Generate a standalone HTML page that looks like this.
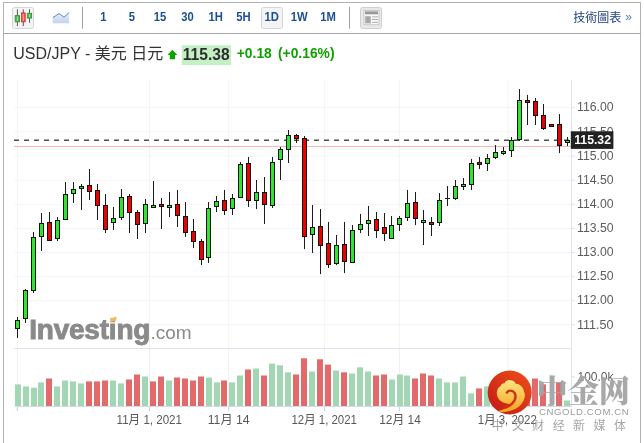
<!DOCTYPE html>
<html><head><meta charset="utf-8"><title>USD/JPY</title>
<style>
html,body{margin:0;padding:0;background:#fff;}
body{width:644px;height:443px;overflow:hidden;position:relative;font-family:"Liberation Sans","Noto Sans CJK SC",sans-serif;}
svg{position:absolute;left:0;top:0;display:block}
text{font-family:"Liberation Sans","Noto Sans CJK SC",sans-serif;}
.tb{font-weight:bold;font-size:12px;fill:#1c4f94;text-anchor:middle}
.ax{font-size:12px;fill:#5c5c5c}
.xl{font-size:12px;fill:#585858;text-anchor:middle}
</style></head><body>
<svg width="644" height="443" viewBox="0 0 644 443">
<defs>
<linearGradient id="ar" x1="0" y1="0" x2="0" y2="1"><stop offset="0" stop-color="#e6eefb"/><stop offset="1" stop-color="#c3d3ee"/></linearGradient>
<linearGradient id="rc" x1="0.85" y1="0.1" x2="0.15" y2="0.9"><stop offset="0" stop-color="#ea4a18"/><stop offset="1" stop-color="#c61d18"/></linearGradient>
<linearGradient id="gold" gradientUnits="userSpaceOnUse" x1="0" y1="110" x2="0" y2="410"><stop offset="0" stop-color="#ffe680"/><stop offset="1" stop-color="#f5a21f"/></linearGradient>
</defs>

<rect x="0" y="0" width="644" height="443" fill="#fff"/>
<rect x="3" y="2" width="1" height="441" fill="#b3b3b3"/>
<rect x="640" y="2" width="1" height="441" fill="#b3b3b3"/>
<rect x="3" y="2" width="638" height="1" fill="#b3b3b3"/>
<rect x="3" y="33" width="638" height="1" fill="#a6a6a6"/>
<rect x="12.5" y="7.5" width="21" height="21" rx="2" fill="#f4f4f4" stroke="#d6d6d6"/>
<g stroke="#333" stroke-width="0.8"><line x1="17.4" y1="9.3" x2="17.4" y2="26.1"/><line x1="23.3" y1="9.3" x2="23.3" y2="26.1"/><line x1="29.5" y1="9.3" x2="29.5" y2="22.8"/></g>
<rect x="15.2" y="15.6" width="4.3" height="6.2" fill="#55b255" stroke="#2e9a2e" stroke-width="0.9"/><rect x="16.9" y="16.4" width="1" height="4.6" fill="#a8dca8"/>
<rect x="21.4" y="12.9" width="3.8" height="8.9" fill="#ea5a5a" stroke="#d93030" stroke-width="0.9"/><rect x="22.8" y="13.8" width="1" height="7.2" fill="#f6a6a6"/>
<rect x="27.3" y="13.3" width="4.3" height="4.8" fill="#55b255" stroke="#2e9a2e" stroke-width="0.9"/><rect x="29" y="14.2" width="1" height="3" fill="#a8dca8"/>
<path d="M52.8 17.7 L59.1 13.5 L64 17.2 L69.1 12.6 L69.1 23.3 L52.8 23.3 Z" fill="url(#ar)"/>
<path d="M52.8 17.7 L59.1 13.5 L64 17.2 L69.1 12.6" fill="none" stroke="#5a8bc0" stroke-width="1"/>
<rect x="82" y="7" width="1" height="21.7" fill="#a0a0a0"/>
<rect x="349" y="7" width="1" height="21.7" fill="#a0a0a0"/>
<rect x="261.5" y="7.5" width="21" height="21" rx="2" fill="#f4f4f4" stroke="#d6d6d6"/>
<text class="tb" transform="translate(103.5 20.8) scale(0.94 1)">1</text>
<text class="tb" transform="translate(132 20.8) scale(0.94 1)">5</text>
<text class="tb" transform="translate(160 20.8) scale(0.94 1)">15</text>
<text class="tb" transform="translate(187.6 20.8) scale(0.94 1)">30</text>
<text class="tb" transform="translate(215.7 20.8) scale(0.94 1)">1H</text>
<text class="tb" transform="translate(243.4 20.8) scale(0.94 1)">5H</text>
<text class="tb" transform="translate(271.8 20.8) scale(0.94 1)">1D</text>
<text class="tb" transform="translate(299.3 20.8) scale(0.94 1)">1W</text>
<text class="tb" transform="translate(328 20.8) scale(0.94 1)">1M</text>
<rect x="360.5" y="7.5" width="21" height="21" rx="2" fill="#e9e9e9" stroke="#cfcfcf"/>
<rect x="364" y="10.3" width="15" height="14.5" fill="#fafafa" stroke="#bdbdbd" stroke-width="0.8"/>
<rect x="365" y="11.3" width="13" height="3" fill="#9a9a9a"/>
<rect x="365.2" y="16.2" width="5.6" height="7.2" fill="#a9a9a9"/>
<g fill="#aaa"><rect x="372" y="16.4" width="6" height="1"/><rect x="372" y="19" width="6" height="1"/><rect x="372" y="21.8" width="6" height="1"/></g>
<text x="573.3" y="21.6" style="font-family:'Liberation Sans','Noto Sans CJK TC',sans-serif;font-size:12px;fill:#1c3f7c">技術圖表</text>
<text x="625.3" y="21.3" style="font-size:12px;fill:#4a7fc0">»</text>
<text x="13.3" y="58.5" style="font-size:16px;fill:#333">USD/JPY - 美元 日元</text>
<path d="M172.4 49.7 L177.3 54.9 L175.1 54.9 L175.1 59.3 L169.8 59.3 L169.8 54.9 L167.5 54.9 Z" fill="#0ea000"/>
<rect x="181.8" y="45.2" width="49.2" height="19.9" fill="#c4f0c4"/>
<text transform="translate(182.8 59.9) scale(0.975 1.065)" style="font-size:16px;font-weight:bold;fill:#2e2e2e">115.38</text>
<text x="236.8" y="58.4" style="font-size:14.4px;font-weight:bold;fill:#0ea000" textLength="35" lengthAdjust="spacingAndGlyphs">+0.18</text>
<text x="278" y="58.4" style="font-size:14.4px;font-weight:bold;fill:#0ea000" textLength="56.5" lengthAdjust="spacingAndGlyphs">(+0.16%)</text>
<rect x="14.5" y="106.80" width="557" height="1" fill="#f4f4f4"/>
<rect x="14.5" y="131.30" width="557" height="1" fill="#f4f4f4"/>
<rect x="14.5" y="155.60" width="557" height="1" fill="#f4f4f4"/>
<rect x="14.5" y="179.70" width="557" height="1" fill="#f4f4f4"/>
<rect x="14.5" y="203.80" width="557" height="1" fill="#f4f4f4"/>
<rect x="14.5" y="227.90" width="557" height="1" fill="#f4f4f4"/>
<rect x="14.5" y="252.00" width="557" height="1" fill="#f4f4f4"/>
<rect x="14.5" y="276.20" width="557" height="1" fill="#f4f4f4"/>
<rect x="14.5" y="300.20" width="557" height="1" fill="#f4f4f4"/>
<rect x="14.5" y="324.30" width="557" height="1" fill="#f4f4f4"/>
<rect x="16.90" y="80" width="1" height="268" fill="#f4f4f4"/>
<rect x="16.90" y="349" width="1" height="57" fill="#eceff5"/>
<rect x="16.90" y="406" width="1" height="5" fill="#c8d0e0"/>
<rect x="149.00" y="80" width="1" height="268" fill="#f4f4f4"/>
<rect x="149.00" y="349" width="1" height="57" fill="#eceff5"/>
<rect x="149.00" y="406" width="1" height="5" fill="#c8d0e0"/>
<rect x="228.20" y="80" width="1" height="268" fill="#f4f4f4"/>
<rect x="228.20" y="349" width="1" height="57" fill="#eceff5"/>
<rect x="228.20" y="406" width="1" height="5" fill="#c8d0e0"/>
<rect x="324.10" y="80" width="1" height="268" fill="#f4f4f4"/>
<rect x="324.10" y="349" width="1" height="57" fill="#eceff5"/>
<rect x="324.10" y="406" width="1" height="5" fill="#c8d0e0"/>
<rect x="398.90" y="80" width="1" height="268" fill="#f4f4f4"/>
<rect x="398.90" y="349" width="1" height="57" fill="#eceff5"/>
<rect x="398.90" y="406" width="1" height="5" fill="#c8d0e0"/>
<rect x="507.60" y="80" width="1" height="268" fill="#f4f4f4"/>
<rect x="507.60" y="349" width="1" height="57" fill="#eceff5"/>
<rect x="507.60" y="406" width="1" height="5" fill="#c8d0e0"/>
<rect x="14.5" y="348" width="557.5" height="1" fill="#dde3ec"/>
<rect x="14.5" y="406" width="557.5" height="1" fill="#d4dbe8"/>
<rect x="571" y="80" width="1" height="327" fill="#dfe4ed"/>
<rect x="571" y="106.80" width="4" height="1" fill="#dbe0ea"/>
<rect x="571" y="131.30" width="4" height="1" fill="#dbe0ea"/>
<rect x="571" y="155.60" width="4" height="1" fill="#dbe0ea"/>
<rect x="571" y="179.70" width="4" height="1" fill="#dbe0ea"/>
<rect x="571" y="203.80" width="4" height="1" fill="#dbe0ea"/>
<rect x="571" y="227.90" width="4" height="1" fill="#dbe0ea"/>
<rect x="571" y="252.00" width="4" height="1" fill="#dbe0ea"/>
<rect x="571" y="276.20" width="4" height="1" fill="#dbe0ea"/>
<rect x="571" y="300.20" width="4" height="1" fill="#dbe0ea"/>
<rect x="571" y="324.30" width="4" height="1" fill="#dbe0ea"/>
<rect x="571" y="376.5" width="4" height="1" fill="#dbe0ea"/>
<text x="29.2" y="339" style="font-size:27.5px;font-weight:bold;fill:#8a8a8a;stroke:#8a8a8a;stroke-width:0.9px;letter-spacing:-0.2px" textLength="121" lengthAdjust="spacingAndGlyphs">Investing</text>
<text x="150.4" y="339.2" style="font-size:19px;fill:#8a8a8a">.com</text>
<path d="M110 318.4 L116.4 316.6 L116.4 320.6 L110 322 Z" fill="#f6bd60"/>
<rect x="14.2" y="146" width="557" height="1" fill="#f9b4b4"/>
<line x1="14" y1="140.3" x2="571" y2="140.3" stroke="#4d4d4d" stroke-width="1.6" stroke-dasharray="5 5"/>
<rect x="15" y="384.4" width="6" height="21.6" fill="#a3d7b3"/>
<rect x="23" y="386.4" width="6" height="19.6" fill="#a3d7b3"/>
<rect x="31" y="387.7" width="6" height="18.3" fill="#a3d7b3"/>
<rect x="38" y="382.4" width="6" height="23.6" fill="#a3d7b3"/>
<rect x="46" y="378.5" width="6" height="27.5" fill="#e26a6a"/>
<rect x="54" y="386.4" width="6" height="19.6" fill="#a3d7b3"/>
<rect x="62" y="380.5" width="6" height="25.5" fill="#a3d7b3"/>
<rect x="70" y="381.4" width="6" height="24.6" fill="#a3d7b3"/>
<rect x="78" y="383.4" width="6" height="22.6" fill="#a3d7b3"/>
<rect x="86" y="381.4" width="6" height="24.6" fill="#e26a6a"/>
<rect x="94" y="381.4" width="6" height="24.6" fill="#e26a6a"/>
<rect x="102" y="380.5" width="6" height="25.5" fill="#e26a6a"/>
<rect x="110" y="380.5" width="6" height="25.5" fill="#a3d7b3"/>
<rect x="118" y="383.4" width="6" height="22.6" fill="#a3d7b3"/>
<rect x="126" y="379.5" width="6" height="26.5" fill="#e26a6a"/>
<rect x="134" y="374.5" width="6" height="31.5" fill="#e26a6a"/>
<rect x="142" y="376.5" width="6" height="29.5" fill="#a3d7b3"/>
<rect x="150" y="381.4" width="6" height="24.6" fill="#e26a6a"/>
<rect x="158" y="376.5" width="6" height="29.5" fill="#e26a6a"/>
<rect x="166" y="380.5" width="6" height="25.5" fill="#a3d7b3"/>
<rect x="174" y="377.5" width="6" height="28.5" fill="#e26a6a"/>
<rect x="182" y="378.5" width="6" height="27.5" fill="#e26a6a"/>
<rect x="190" y="380.5" width="6" height="25.5" fill="#e26a6a"/>
<rect x="198" y="376.5" width="6" height="29.5" fill="#e26a6a"/>
<rect x="206" y="377.5" width="6" height="28.5" fill="#a3d7b3"/>
<rect x="214" y="382.4" width="6" height="23.6" fill="#a3d7b3"/>
<rect x="221" y="380.5" width="6" height="25.5" fill="#e26a6a"/>
<rect x="229" y="382.4" width="6" height="23.6" fill="#a3d7b3"/>
<rect x="237" y="375.5" width="6" height="30.5" fill="#a3d7b3"/>
<rect x="245" y="369.5" width="6" height="36.5" fill="#e26a6a"/>
<rect x="253" y="368.5" width="6" height="37.5" fill="#a3d7b3"/>
<rect x="261" y="375.5" width="6" height="30.5" fill="#e26a6a"/>
<rect x="269" y="363.6" width="6" height="42.4" fill="#a3d7b3"/>
<rect x="277" y="365.3" width="6" height="40.7" fill="#a3d7b3"/>
<rect x="285" y="372.3" width="6" height="33.7" fill="#a3d7b3"/>
<rect x="293" y="374.5" width="6" height="31.5" fill="#e26a6a"/>
<rect x="301" y="358.3" width="6" height="47.7" fill="#e26a6a"/>
<rect x="309" y="371.5" width="6" height="34.5" fill="#a3d7b3"/>
<rect x="317" y="359.3" width="6" height="46.7" fill="#e26a6a"/>
<rect x="325" y="364.6" width="6" height="41.4" fill="#e26a6a"/>
<rect x="333" y="370.5" width="6" height="35.5" fill="#a3d7b3"/>
<rect x="341" y="372.3" width="6" height="33.7" fill="#e26a6a"/>
<rect x="349" y="373.5" width="6" height="32.5" fill="#a3d7b3"/>
<rect x="357" y="367.3" width="6" height="38.7" fill="#a3d7b3"/>
<rect x="365" y="371.5" width="6" height="34.5" fill="#a3d7b3"/>
<rect x="373" y="375.5" width="6" height="30.5" fill="#e26a6a"/>
<rect x="381" y="374.5" width="6" height="31.5" fill="#e26a6a"/>
<rect x="389" y="379.5" width="6" height="26.5" fill="#a3d7b3"/>
<rect x="397" y="374.5" width="6" height="31.5" fill="#a3d7b3"/>
<rect x="404" y="375.5" width="6" height="30.5" fill="#a3d7b3"/>
<rect x="412" y="378.5" width="6" height="27.5" fill="#e26a6a"/>
<rect x="420" y="373.5" width="6" height="32.5" fill="#e26a6a"/>
<rect x="428" y="375.5" width="6" height="30.5" fill="#e26a6a"/>
<rect x="436" y="378.5" width="6" height="27.5" fill="#a3d7b3"/>
<rect x="444" y="382.4" width="6" height="23.6" fill="#a3d7b3"/>
<rect x="452" y="382.4" width="6" height="23.6" fill="#a3d7b3"/>
<rect x="460" y="376.5" width="6" height="29.5" fill="#a3d7b3"/>
<rect x="468" y="393.4" width="6" height="12.6" fill="#a3d7b3"/>
<rect x="476" y="388.4" width="6" height="17.6" fill="#e26a6a"/>
<rect x="484" y="386.4" width="6" height="19.6" fill="#a3d7b3"/>
<rect x="492" y="385.0" width="6" height="21.0" fill="#a3d7b3"/>
<rect x="500" y="388.0" width="6" height="18.0" fill="#a3d7b3"/>
<rect x="508" y="384.0" width="6" height="22.0" fill="#a3d7b3"/>
<rect x="516" y="385.0" width="6" height="21.0" fill="#a3d7b3"/>
<rect x="524" y="386.0" width="6" height="20.0" fill="#e26a6a"/>
<rect x="532" y="378.5" width="6" height="27.5" fill="#e26a6a"/>
<rect x="540" y="384.4" width="6" height="21.6" fill="#e26a6a"/>
<rect x="548" y="404.0" width="6" height="2.0" fill="#a3d7b3"/>
<rect x="556" y="382.5" width="6" height="23.5" fill="#e26a6a"/>
<rect x="564" y="400.5" width="6" height="5.5" fill="#a3d7b3"/>
<rect x="17.0" y="317" width="1" height="21" fill="#1c1c1c"/>
<rect x="15.0" y="320" width="5" height="9" fill="#111"/>
<rect x="16.0" y="321" width="3" height="7" fill="#2fe62f"/>
<rect x="25.0" y="289" width="1" height="34" fill="#1c1c1c"/>
<rect x="23.0" y="290" width="5" height="29" fill="#111"/>
<rect x="24.0" y="291" width="3" height="27" fill="#2fe62f"/>
<rect x="33.0" y="232" width="1" height="61" fill="#1c1c1c"/>
<rect x="31.0" y="237" width="5" height="54" fill="#111"/>
<rect x="32.0" y="238" width="3" height="52" fill="#2fe62f"/>
<rect x="41.0" y="213" width="1" height="38" fill="#1c1c1c"/>
<rect x="39.0" y="223" width="5" height="14" fill="#111"/>
<rect x="40.0" y="224" width="3" height="12" fill="#2fe62f"/>
<rect x="49.0" y="212" width="1" height="29" fill="#1c1c1c"/>
<rect x="47.0" y="222" width="5" height="19" fill="#111"/>
<rect x="48.0" y="223" width="3" height="17" fill="#ee0000"/>
<rect x="57.0" y="217" width="1" height="24" fill="#1c1c1c"/>
<rect x="55.0" y="220" width="5" height="19" fill="#111"/>
<rect x="56.0" y="221" width="3" height="17" fill="#2fe62f"/>
<rect x="65.0" y="182" width="1" height="38" fill="#1c1c1c"/>
<rect x="63.0" y="194" width="5" height="26" fill="#111"/>
<rect x="64.0" y="195" width="3" height="24" fill="#2fe62f"/>
<rect x="73.0" y="182" width="1" height="21" fill="#1c1c1c"/>
<rect x="71.0" y="189" width="5" height="5" fill="#111"/>
<rect x="72.0" y="190" width="3" height="3" fill="#2fe62f"/>
<rect x="81.0" y="184" width="1" height="26" fill="#1c1c1c"/>
<rect x="79.0" y="186" width="5" height="3" fill="#111"/>
<rect x="80.0" y="187" width="3" height="1" fill="#2fe62f"/>
<rect x="89.0" y="169" width="1" height="31" fill="#1c1c1c"/>
<rect x="87.0" y="185" width="5" height="7" fill="#111"/>
<rect x="88.0" y="186" width="3" height="5" fill="#ee0000"/>
<rect x="97.0" y="184" width="1" height="36" fill="#1c1c1c"/>
<rect x="95.0" y="190" width="5" height="16" fill="#111"/>
<rect x="96.0" y="191" width="3" height="14" fill="#ee0000"/>
<rect x="105.0" y="194" width="1" height="39" fill="#1c1c1c"/>
<rect x="103.0" y="205" width="5" height="25" fill="#111"/>
<rect x="104.0" y="206" width="3" height="23" fill="#ee0000"/>
<rect x="113.0" y="207" width="1" height="23" fill="#1c1c1c"/>
<rect x="111.0" y="218" width="5" height="5" fill="#111"/>
<rect x="112.0" y="219" width="3" height="3" fill="#2fe62f"/>
<rect x="121.0" y="189" width="1" height="31" fill="#1c1c1c"/>
<rect x="119.0" y="197" width="5" height="21" fill="#111"/>
<rect x="120.0" y="198" width="3" height="19" fill="#2fe62f"/>
<rect x="129.0" y="194" width="1" height="39" fill="#1c1c1c"/>
<rect x="127.0" y="196" width="5" height="17" fill="#111"/>
<rect x="128.0" y="197" width="3" height="15" fill="#ee0000"/>
<rect x="137.0" y="210" width="1" height="29" fill="#1c1c1c"/>
<rect x="135.0" y="212" width="5" height="13" fill="#111"/>
<rect x="136.0" y="213" width="3" height="11" fill="#ee0000"/>
<rect x="145.0" y="199" width="1" height="34" fill="#1c1c1c"/>
<rect x="143.0" y="204" width="5" height="20" fill="#111"/>
<rect x="144.0" y="205" width="3" height="18" fill="#2fe62f"/>
<rect x="153.0" y="181" width="1" height="27" fill="#1c1c1c"/>
<rect x="151.0" y="205" width="5" height="3" fill="#111"/>
<rect x="152.0" y="206" width="3" height="1" fill="#2fe62f"/>
<rect x="161.0" y="198" width="1" height="31" fill="#1c1c1c"/>
<rect x="159.0" y="204" width="5" height="3" fill="#111"/>
<rect x="160.0" y="205" width="3" height="1" fill="#ee0000"/>
<rect x="169.0" y="192" width="1" height="25" fill="#1c1c1c"/>
<rect x="167.0" y="205" width="5" height="3" fill="#111"/>
<rect x="168.0" y="206" width="3" height="1" fill="#2fe62f"/>
<rect x="177.0" y="190" width="1" height="37" fill="#1c1c1c"/>
<rect x="175.0" y="204" width="5" height="12" fill="#111"/>
<rect x="176.0" y="205" width="3" height="10" fill="#ee0000"/>
<rect x="185.0" y="202" width="1" height="35" fill="#1c1c1c"/>
<rect x="183.0" y="216" width="5" height="17" fill="#111"/>
<rect x="184.0" y="217" width="3" height="15" fill="#ee0000"/>
<rect x="193.0" y="219" width="1" height="29" fill="#1c1c1c"/>
<rect x="191.0" y="231" width="5" height="11" fill="#111"/>
<rect x="192.0" y="232" width="3" height="9" fill="#ee0000"/>
<rect x="201.0" y="239" width="1" height="26" fill="#1c1c1c"/>
<rect x="199.0" y="241" width="5" height="19" fill="#111"/>
<rect x="200.0" y="242" width="3" height="17" fill="#ee0000"/>
<rect x="208.0" y="202" width="1" height="61" fill="#1c1c1c"/>
<rect x="206.0" y="208" width="5" height="50" fill="#111"/>
<rect x="207.0" y="209" width="3" height="48" fill="#2fe62f"/>
<rect x="216.0" y="196" width="1" height="16" fill="#1c1c1c"/>
<rect x="214.0" y="201" width="5" height="6" fill="#111"/>
<rect x="215.0" y="202" width="3" height="4" fill="#2fe62f"/>
<rect x="224.0" y="190" width="1" height="25" fill="#1c1c1c"/>
<rect x="222.0" y="200" width="5" height="11" fill="#111"/>
<rect x="223.0" y="201" width="3" height="9" fill="#ee0000"/>
<rect x="232.0" y="194" width="1" height="21" fill="#1c1c1c"/>
<rect x="230.0" y="198" width="5" height="11" fill="#111"/>
<rect x="231.0" y="199" width="3" height="9" fill="#2fe62f"/>
<rect x="240.0" y="162" width="1" height="36" fill="#1c1c1c"/>
<rect x="238.0" y="164" width="5" height="34" fill="#111"/>
<rect x="239.0" y="165" width="3" height="32" fill="#2fe62f"/>
<rect x="248.0" y="157" width="1" height="50" fill="#1c1c1c"/>
<rect x="246.0" y="163" width="5" height="38" fill="#111"/>
<rect x="247.0" y="164" width="3" height="36" fill="#ee0000"/>
<rect x="256.0" y="180" width="1" height="29" fill="#1c1c1c"/>
<rect x="254.0" y="192" width="5" height="9" fill="#111"/>
<rect x="255.0" y="193" width="3" height="7" fill="#2fe62f"/>
<rect x="264.0" y="177" width="1" height="47" fill="#1c1c1c"/>
<rect x="262.0" y="192" width="5" height="13" fill="#111"/>
<rect x="263.0" y="193" width="3" height="11" fill="#ee0000"/>
<rect x="272.0" y="157" width="1" height="51" fill="#1c1c1c"/>
<rect x="270.0" y="162" width="5" height="44" fill="#111"/>
<rect x="271.0" y="163" width="3" height="42" fill="#2fe62f"/>
<rect x="280.0" y="147" width="1" height="33" fill="#1c1c1c"/>
<rect x="278.0" y="149" width="5" height="11" fill="#111"/>
<rect x="279.0" y="150" width="3" height="9" fill="#2fe62f"/>
<rect x="288.0" y="130" width="1" height="33" fill="#1c1c1c"/>
<rect x="286.0" y="135" width="5" height="15" fill="#111"/>
<rect x="287.0" y="136" width="3" height="13" fill="#2fe62f"/>
<rect x="296.0" y="134" width="1" height="9" fill="#1c1c1c"/>
<rect x="294.0" y="135" width="5" height="4" fill="#111"/>
<rect x="295.0" y="136" width="3" height="2" fill="#ee0000"/>
<rect x="304.0" y="136" width="1" height="113" fill="#1c1c1c"/>
<rect x="302.0" y="138" width="5" height="99" fill="#111"/>
<rect x="303.0" y="139" width="3" height="97" fill="#ee0000"/>
<rect x="312.0" y="205" width="1" height="48" fill="#1c1c1c"/>
<rect x="310.0" y="227" width="5" height="8" fill="#111"/>
<rect x="311.0" y="228" width="3" height="6" fill="#2fe62f"/>
<rect x="320.0" y="209" width="1" height="65" fill="#1c1c1c"/>
<rect x="318.0" y="226" width="5" height="20" fill="#111"/>
<rect x="319.0" y="227" width="3" height="18" fill="#ee0000"/>
<rect x="328.0" y="222" width="1" height="46" fill="#1c1c1c"/>
<rect x="326.0" y="243" width="5" height="22" fill="#111"/>
<rect x="327.0" y="244" width="3" height="20" fill="#ee0000"/>
<rect x="336.0" y="235" width="1" height="30" fill="#1c1c1c"/>
<rect x="334.0" y="245" width="5" height="19" fill="#111"/>
<rect x="335.0" y="246" width="3" height="17" fill="#2fe62f"/>
<rect x="344.0" y="222" width="1" height="51" fill="#1c1c1c"/>
<rect x="342.0" y="244" width="5" height="18" fill="#111"/>
<rect x="343.0" y="245" width="3" height="16" fill="#ee0000"/>
<rect x="352.0" y="225" width="1" height="38" fill="#1c1c1c"/>
<rect x="350.0" y="230" width="5" height="33" fill="#111"/>
<rect x="351.0" y="231" width="3" height="31" fill="#2fe62f"/>
<rect x="360.0" y="214" width="1" height="19" fill="#1c1c1c"/>
<rect x="358.0" y="224" width="5" height="6" fill="#111"/>
<rect x="359.0" y="225" width="3" height="4" fill="#2fe62f"/>
<rect x="368.0" y="206" width="1" height="30" fill="#1c1c1c"/>
<rect x="366.0" y="220" width="5" height="4" fill="#111"/>
<rect x="367.0" y="221" width="3" height="2" fill="#2fe62f"/>
<rect x="376.0" y="212" width="1" height="26" fill="#1c1c1c"/>
<rect x="374.0" y="219" width="5" height="12" fill="#111"/>
<rect x="375.0" y="220" width="3" height="10" fill="#ee0000"/>
<rect x="384.0" y="213" width="1" height="28" fill="#1c1c1c"/>
<rect x="382.0" y="227" width="5" height="7" fill="#111"/>
<rect x="383.0" y="228" width="3" height="5" fill="#ee0000"/>
<rect x="391.0" y="216" width="1" height="23" fill="#1c1c1c"/>
<rect x="389.0" y="225" width="5" height="14" fill="#111"/>
<rect x="390.0" y="226" width="3" height="12" fill="#2fe62f"/>
<rect x="399.0" y="216" width="1" height="15" fill="#1c1c1c"/>
<rect x="397.0" y="218" width="5" height="7" fill="#111"/>
<rect x="398.0" y="219" width="3" height="5" fill="#2fe62f"/>
<rect x="407.0" y="190" width="1" height="31" fill="#1c1c1c"/>
<rect x="405.0" y="203" width="5" height="15" fill="#111"/>
<rect x="406.0" y="204" width="3" height="13" fill="#2fe62f"/>
<rect x="415.0" y="192" width="1" height="33" fill="#1c1c1c"/>
<rect x="413.0" y="202" width="5" height="17" fill="#111"/>
<rect x="414.0" y="203" width="3" height="15" fill="#ee0000"/>
<rect x="423.0" y="210" width="1" height="35" fill="#1c1c1c"/>
<rect x="421.0" y="220" width="5" height="3" fill="#111"/>
<rect x="422.0" y="221" width="3" height="1" fill="#2fe62f"/>
<rect x="431.0" y="217" width="1" height="19" fill="#1c1c1c"/>
<rect x="429.0" y="222" width="5" height="3" fill="#111"/>
<rect x="430.0" y="223" width="3" height="1" fill="#ee0000"/>
<rect x="439.0" y="193" width="1" height="33" fill="#1c1c1c"/>
<rect x="437.0" y="200" width="5" height="23" fill="#111"/>
<rect x="438.0" y="201" width="3" height="21" fill="#2fe62f"/>
<rect x="447.0" y="186" width="1" height="20" fill="#1c1c1c"/>
<rect x="445.0" y="198" width="5" height="1" fill="#1c1c1c"/>
<rect x="455.0" y="180" width="1" height="20" fill="#1c1c1c"/>
<rect x="453.0" y="186" width="5" height="13" fill="#111"/>
<rect x="454.0" y="187" width="3" height="11" fill="#2fe62f"/>
<rect x="463.0" y="178" width="1" height="12" fill="#1c1c1c"/>
<rect x="461.0" y="184" width="5" height="3" fill="#111"/>
<rect x="462.0" y="185" width="3" height="1" fill="#2fe62f"/>
<rect x="471.0" y="159" width="1" height="31" fill="#1c1c1c"/>
<rect x="469.0" y="163" width="5" height="22" fill="#111"/>
<rect x="470.0" y="164" width="3" height="20" fill="#2fe62f"/>
<rect x="479.0" y="157" width="1" height="12" fill="#1c1c1c"/>
<rect x="477.0" y="162" width="5" height="3" fill="#111"/>
<rect x="478.0" y="163" width="3" height="1" fill="#ee0000"/>
<rect x="487.0" y="154" width="1" height="17" fill="#1c1c1c"/>
<rect x="485.0" y="158" width="5" height="6" fill="#111"/>
<rect x="486.0" y="159" width="3" height="4" fill="#2fe62f"/>
<rect x="495.0" y="145" width="1" height="14" fill="#1c1c1c"/>
<rect x="493.0" y="152" width="5" height="6" fill="#111"/>
<rect x="494.0" y="153" width="3" height="4" fill="#2fe62f"/>
<rect x="503.0" y="147" width="1" height="8" fill="#1c1c1c"/>
<rect x="501.0" y="151" width="5" height="3" fill="#111"/>
<rect x="502.0" y="152" width="3" height="1" fill="#2fe62f"/>
<rect x="511.0" y="137" width="1" height="20" fill="#1c1c1c"/>
<rect x="509.0" y="140" width="5" height="11" fill="#111"/>
<rect x="510.0" y="141" width="3" height="9" fill="#2fe62f"/>
<rect x="519.0" y="89" width="1" height="52" fill="#1c1c1c"/>
<rect x="517.0" y="100" width="5" height="40" fill="#111"/>
<rect x="518.0" y="101" width="3" height="38" fill="#2fe62f"/>
<rect x="527.0" y="95" width="1" height="30" fill="#1c1c1c"/>
<rect x="525.0" y="100" width="5" height="3" fill="#111"/>
<rect x="526.0" y="101" width="3" height="1" fill="#ee0000"/>
<rect x="535.0" y="98" width="1" height="27" fill="#1c1c1c"/>
<rect x="533.0" y="101" width="5" height="15" fill="#111"/>
<rect x="534.0" y="102" width="3" height="13" fill="#ee0000"/>
<rect x="543.0" y="104" width="1" height="26" fill="#1c1c1c"/>
<rect x="541.0" y="115" width="5" height="14" fill="#111"/>
<rect x="542.0" y="116" width="3" height="12" fill="#ee0000"/>
<rect x="551.0" y="124" width="1" height="3" fill="#1c1c1c"/>
<rect x="549.0" y="124" width="5" height="3" fill="#111"/>
<rect x="550.0" y="125" width="3" height="1" fill="#ee0000"/>
<rect x="559.0" y="114" width="1" height="39" fill="#1c1c1c"/>
<rect x="557.0" y="124" width="5" height="22" fill="#111"/>
<rect x="558.0" y="125" width="3" height="20" fill="#ee0000"/>
<rect x="567.0" y="137" width="1" height="9" fill="#1c1c1c"/>
<rect x="565.0" y="140" width="5" height="3" fill="#111"/>
<rect x="566.0" y="141" width="3" height="1" fill="#2fe62f"/>
<text class="ax" x="577" y="111.0" textLength="36.6" lengthAdjust="spacingAndGlyphs">116.00</text>
<text class="ax" x="577" y="135.5" textLength="36.6" lengthAdjust="spacingAndGlyphs">115.50</text>
<text class="ax" x="577" y="159.8" textLength="36.6" lengthAdjust="spacingAndGlyphs">115.00</text>
<text class="ax" x="577" y="183.9" textLength="36.6" lengthAdjust="spacingAndGlyphs">114.50</text>
<text class="ax" x="577" y="208.0" textLength="36.6" lengthAdjust="spacingAndGlyphs">114.00</text>
<text class="ax" x="577" y="232.1" textLength="36.6" lengthAdjust="spacingAndGlyphs">113.50</text>
<text class="ax" x="577" y="256.2" textLength="36.6" lengthAdjust="spacingAndGlyphs">113.00</text>
<text class="ax" x="577" y="280.4" textLength="36.6" lengthAdjust="spacingAndGlyphs">112.50</text>
<text class="ax" x="577" y="304.4" textLength="36.6" lengthAdjust="spacingAndGlyphs">112.00</text>
<text class="ax" x="577" y="328.5" textLength="36.6" lengthAdjust="spacingAndGlyphs">111.50</text>
<text class="ax" x="577.5" y="381.2">100.0k</text>
<rect x="570.8" y="131.3" width="42.6" height="17.6" fill="#222"/>
<text x="574.2" y="143.9" textLength="36.8" lengthAdjust="spacingAndGlyphs" style="font-size:12px;font-weight:bold;fill:#fff">115.32</text>
<text class="xl" x="149.3" y="424.3" textLength="65.4" lengthAdjust="spacingAndGlyphs">11月 1, 2021</text>
<text class="xl" x="228.7" y="424.3" textLength="42" lengthAdjust="spacingAndGlyphs">11月 14</text>
<text class="xl" x="324.2" y="424.3" textLength="65.6" lengthAdjust="spacingAndGlyphs">12月 1, 2021</text>
<text class="xl" x="400" y="424.3" textLength="41.6" lengthAdjust="spacingAndGlyphs">12月 14</text>
<text class="xl" x="507.3" y="424.3" textLength="59" lengthAdjust="spacingAndGlyphs">1月 3, 2022</text>
<circle cx="509.7" cy="392.5" r="22" fill="url(#rc)"/>
<g transform="translate(486 368) scale(0.10835)">
<path d="M100 235 C98 210 110 180 135 165 C140 150 155 140 170 142 C175 120 200 108 225 112 C248 112 268 125 275 145 C310 145 345 175 350 215 C362 240 358 275 345 295 C335 320 300 340 265 335 C230 335 190 330 160 318 C125 305 102 270 100 235 Z" fill="url(#gold)"/>
<path d="M355 232 C366 300 320 365 240 390 C200 402 140 420 110 396 C160 385 215 360 250 318 C270 290 278 262 270 240 Z" fill="url(#gold)"/>
<path d="M193 227 C205 203 245 200 265 232 C280 262 268 300 240 328 C220 348 195 362 165 370" fill="none" stroke="#cf301a" stroke-width="22" stroke-linecap="round"/>
</g>
<text x="536.6" y="401.5" textLength="93.4" lengthAdjust="spacingAndGlyphs" style="font-family:'Liberation Serif','Noto Serif CJK SC',serif;font-weight:900;font-size:30.5px;fill:#a4a4a4;fill-opacity:0.96">中金网</text>
<text x="538.9" y="414.8" style="font-size:9.6px;fill:#9c9c9c;letter-spacing:0.6px">CNGOLD.COM.CN</text>
<text x="491.5" y="430" style="font-size:12px;fill:#9c9c9c;fill-opacity:0.9;letter-spacing:8.4px">中文财经新媒体</text>
</svg>
</body></html>
